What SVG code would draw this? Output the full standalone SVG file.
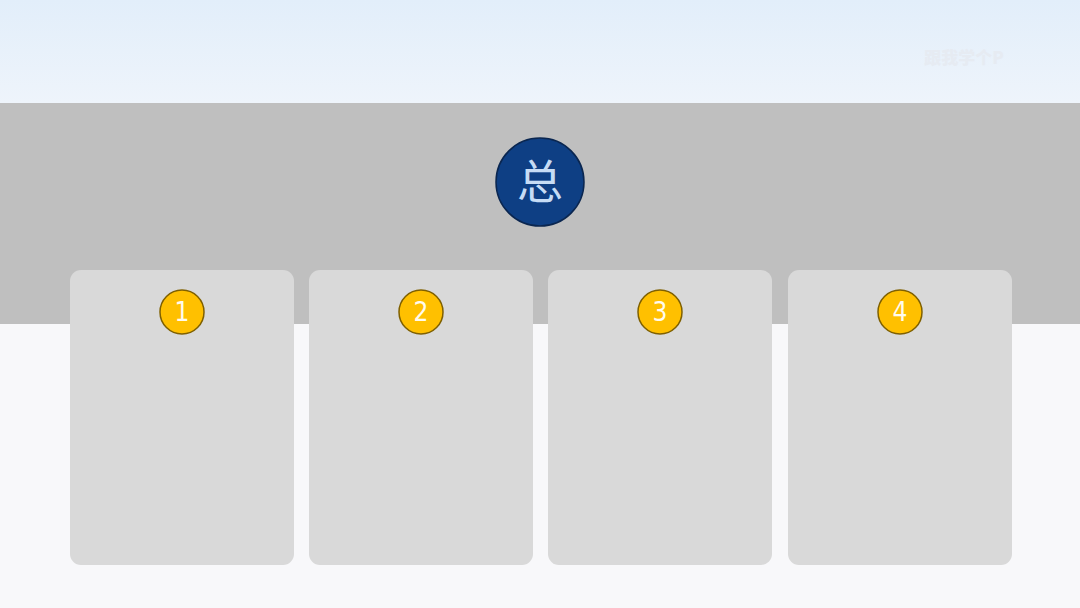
<svg xmlns="http://www.w3.org/2000/svg" width="1080" height="608" viewBox="0 0 1080 608">
<defs>
<linearGradient id="sky" x1="0" y1="0" x2="0" y2="1">
<stop offset="0" stop-color="#e2eefa"/>
<stop offset="1" stop-color="#eef4fb"/>
</linearGradient>
<style>
.card{fill:#d9d9d9;}
.badge{fill:#ffc000;stroke:#7f6000;stroke-width:1.5;}
.num{font-family:"DejaVu Sans Condensed","DejaVu Sans","Liberation Sans",sans-serif;font-size:26px;fill:#fffbee;text-anchor:middle;}
</style>
</defs>
<rect x="0" y="0" width="1080" height="608" fill="#f8f8fa"/>
<rect x="0" y="0" width="1080" height="103" fill="url(#sky)"/>
<text x="964" y="64" font-family="'Noto Sans CJK SC',sans-serif" font-weight="900" font-size="17" fill="#e6ebf2" text-anchor="middle">跟我学个P</text>
<rect x="0" y="103" width="1080" height="221" fill="#bfbfbf"/>
<g id="top">
<circle cx="540" cy="182" r="44" fill="#0e3f84" stroke="#0a2650" stroke-width="1.5"/>
<text x="540" y="198" font-family="'Noto Sans CJK SC',sans-serif" font-weight="400" font-size="46" fill="#c6dcf5" text-anchor="middle">总</text>
</g>
<g id="card1">
<rect class="card" x="70" y="270" width="224" height="295" rx="11"/>
<circle class="badge" cx="182" cy="312" r="22"/>
<text class="num" x="182" y="321">1</text>
</g>
<g id="card2">
<rect class="card" x="309" y="270" width="224" height="295" rx="11"/>
<circle class="badge" cx="421" cy="312" r="22"/>
<text class="num" x="421" y="321">2</text>
</g>
<g id="card3">
<rect class="card" x="548" y="270" width="224" height="295" rx="11"/>
<circle class="badge" cx="660" cy="312" r="22"/>
<text class="num" x="660" y="321">3</text>
</g>
<g id="card4">
<rect class="card" x="788" y="270" width="224" height="295" rx="11"/>
<circle class="badge" cx="900" cy="312" r="22"/>
<text class="num" x="900" y="321">4</text>
</g>
<g id="connectors"></g>
</svg>
